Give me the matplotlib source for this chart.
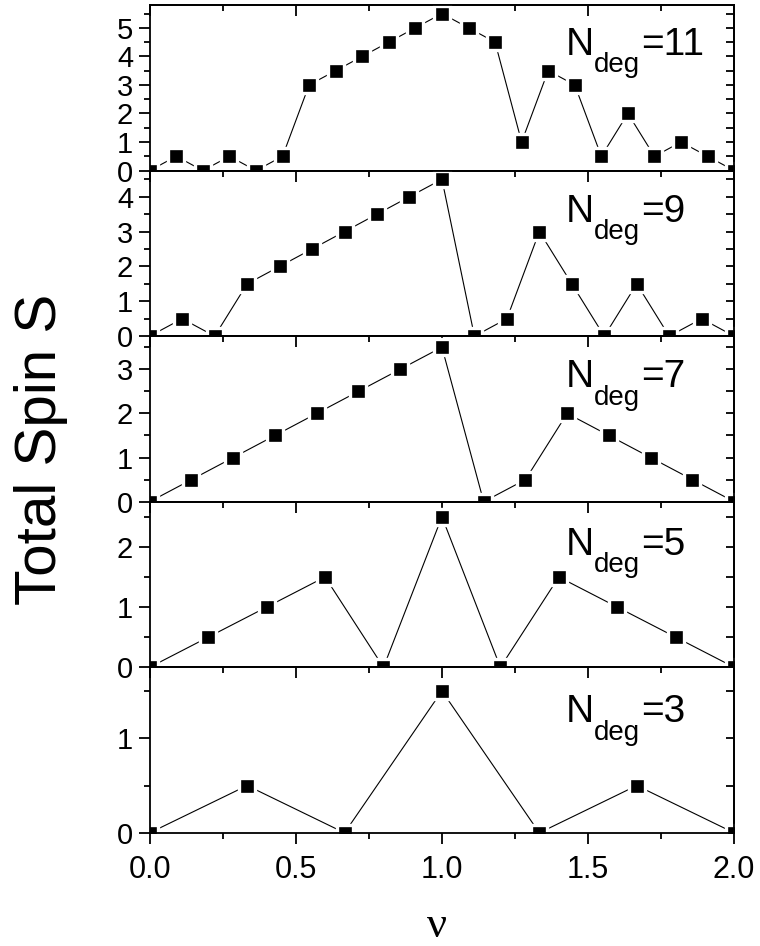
import numpy as np
import matplotlib
matplotlib.use("Agg")
import matplotlib.pyplot as plt
from matplotlib.ticker import MultipleLocator
from matplotlib.transforms import offset_copy

plt.rcParams["font.family"] = ["Liberation Sans", "DejaVu Sans"]
plt.rcParams["mathtext.fontset"] = "custom"
plt.rcParams["mathtext.rm"] = "Liberation Serif"
plt.rcParams["mathtext.it"] = "Liberation Serif"

# Total spin S versus filling factor nu for each degeneracy
n_deg = [11, 9, 7, 5, 3]

spin_11 = [0, 0.5, 0, 0.5, 0, 0.5, 3, 3.5, 4, 4.5, 5, 5.5,
           5, 4.5, 1, 3.5, 3, 0.5, 2, 0.5, 1, 0.5, 0]
spin_9 = [0, 0.5, 0, 1.5, 2, 2.5, 3, 3.5, 4, 4.5,
          0, 0.5, 3, 1.5, 0, 1.5, 0, 0.5, 0]
spin_7 = [0, 0.5, 1, 1.5, 2, 2.5, 3, 3.5, 0, 0.5, 2, 1.5, 1, 0.5, 0]
spin_5 = [0, 0.5, 1, 1.5, 0, 2.5, 0, 1.5, 1, 0.5, 0]
spin_3 = [0, 0.5, 0, 1.5, 0, 0.5, 0]

spins = [spin_11, spin_9, spin_7, spin_5, spin_3]
y_top = [5.8, 4.75, 3.75, 2.75, 1.75]
label_y = [0.70, 0.69, 0.69, 0.68, 0.667]

fig, axes = plt.subplots(5, 1, sharex=True, figsize=(7.6, 9.46), dpi=100,
                         gridspec_kw=dict(hspace=0))
fig.subplots_adjust(left=0.197, right=0.966, bottom=0.1196, top=0.9947)

for ax, n, s, top, ly in zip(axes, n_deg, spins, y_top, label_y):
    nu = np.arange(len(s)) / n
    ax.plot(nu, s, color="black", lw=0.8, marker="s", ms=11,
            mfc="black", mec="white", mew=2.4)
    ax.set_xlim(0, 2)
    ax.set_ylim(0, top)
    ax.yaxis.set_major_locator(MultipleLocator(1))
    ax.yaxis.set_minor_locator(MultipleLocator(0.5))
    ax.xaxis.set_major_locator(MultipleLocator(0.5))
    ax.xaxis.set_minor_locator(MultipleLocator(0.25))
    for sp in ax.spines.values():
        sp.set_linewidth(1.3)
    ax.tick_params(axis="y", which="both", left=True, right=False,
                   direction="out", width=1.3, labelsize=21, pad=4)
    ax.tick_params(axis="x", which="both", bottom=True, top=False,
                   direction="out", width=1.3, labelsize=22, pad=8)
    ax.tick_params(which="major", length=8)
    ax.tick_params(which="minor", length=4)

    # inward ticks on the top and right edges
    sec_x = ax.secondary_xaxis("top")
    sec_x.xaxis.set_major_locator(MultipleLocator(0.5))
    sec_x.xaxis.set_minor_locator(MultipleLocator(0.25))
    sec_x.tick_params(which="both", direction="in", width=1.3,
                      labeltop=False)
    sec_x.tick_params(which="major", length=8)
    sec_x.tick_params(which="minor", length=4)
    sec_x.spines["top"].set_linewidth(1.3)
    sec_y = ax.secondary_yaxis("right")
    sec_y.yaxis.set_major_locator(MultipleLocator(1))
    sec_y.yaxis.set_minor_locator(MultipleLocator(0.5))
    sec_y.tick_params(which="both", direction="in", width=1.3,
                      labelright=False, length=6)
    sec_y.spines["right"].set_linewidth(1.3)

    # N_deg label built from three pieces
    ax.text(0.712, ly, "N", transform=ax.transAxes, fontsize=28,
            va="baseline", ha="left")
    ax.text(0.712, ly, "deg",
            transform=offset_copy(ax.transAxes, fig=fig, x=20.5, y=-12.5,
                                  units="points"),
            fontsize=20, va="baseline", ha="left")
    ax.text(0.712, ly, "=%d" % n,
            transform=offset_copy(ax.transAxes, fig=fig, x=54, y=0,
                                  units="points"),
            fontsize=28, va="baseline", ha="left")

for ax in axes[:-1]:
    ax.tick_params(axis="x", labelbottom=False)

fig.text(14 / 760, (946 - 605) / 946, "Total Spin S", rotation=90,
         fontsize=42, ha="left", va="bottom")
fig.text(437 / 760, 0.0, r"$\nu$", fontsize=32, ha="center",
         va="bottom")

fig.savefig("out.png", dpi=100)
